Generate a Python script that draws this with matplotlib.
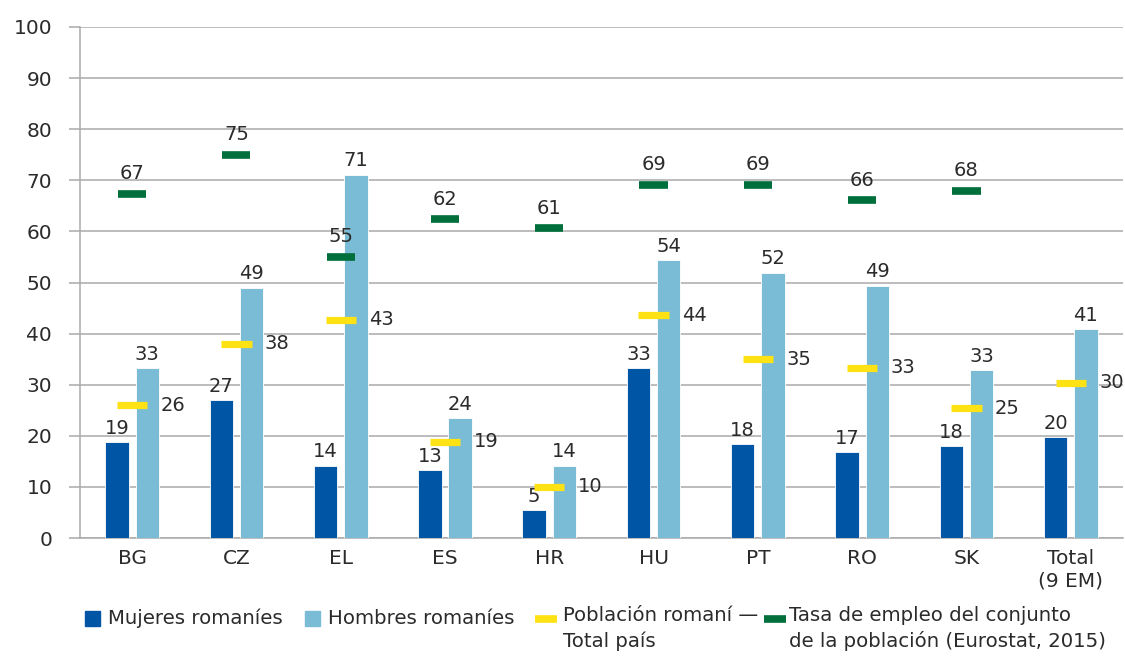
import matplotlib
matplotlib.use("Agg")
import matplotlib.pyplot as plt
import numpy as np
from matplotlib.patches import Rectangle
from matplotlib.lines import Line2D

plt.rcParams['font.family'] = ['DejaVu Sans']

categories = ["BG", "CZ", "EL", "ES", "HR", "HU", "PT", "RO", "SK", "Total\n(9 EM)"]
mujeres = [18.8, 27.0, 14.2, 13.3, 5.4, 33.3, 18.4, 16.8, 18.0, 19.8]
hombres = [33.3, 49.0, 71.1, 23.5, 14.2, 54.4, 51.9, 49.4, 32.9, 40.9]
poblacion = [26.0, 38.0, 42.7, 18.8, 10.0, 43.6, 35.0, 33.3, 25.4, 30.4]
tasa_cats = ["BG", "CZ", "EL", "ES", "HR", "HU", "PT", "RO", "SK"]
tasa = [67.4, 75.0, 55.0, 62.4, 60.6, 69.1, 69.1, 66.1, 67.9]

legend_labels = ["Mujeres romaníes", "Hombres romaníes",
                 "Población romaní —\nTotal país",
                 "Tasa de empleo del conjunto\nde la población (Eurostat, 2015)"]

C_DARK = "#0055a5"
C_LIGHT = "#7abcd6"
C_YEL = "#ffe214"
C_GRN = "#006f3b"
C_TXT = "#2b2b2b"
C_GRID = "#aaaaaa"

fig = plt.figure(figsize=(11.25, 6.57), dpi=100)
ax = fig.add_axes([0.0711, 0.181, 0.927, 0.778])

x = np.arange(len(categories))
w = 0.225
off = 0.145
ax.bar(x - off, mujeres, w, color=C_DARK, edgecolor="white", linewidth=0.6, zorder=3)
ax.bar(x + off, hombres, w, color=C_LIGHT, edgecolor="white", linewidth=0.6, zorder=3)

mw = 0.145
ax.hlines(poblacion, x - mw, x + mw, colors=C_YEL, linewidth=5.2, zorder=4, capstyle='butt')
xt = np.array([categories.index(c) for c in tasa_cats])
ax.hlines(tasa, xt - 0.135, xt + 0.135, colors=C_GRN, linewidth=5.5, zorder=4, capstyle='butt')

fs = 14
for xi, v in zip(x, mujeres):
    ax.annotate(f"{round(v)}", (xi - off, v), xytext=(0, 6), textcoords="offset points",
                ha="center", va="baseline", fontsize=fs, color=C_TXT)
for xi, v in zip(x, hombres):
    ax.annotate(f"{round(v)}", (xi + off, v), xytext=(0, 6), textcoords="offset points",
                ha="center", va="baseline", fontsize=fs, color=C_TXT)
for xi, v in zip(x, poblacion):
    ax.annotate(f"{round(v)}", (xi, v), xytext=(20.5, 0), textcoords="offset points",
                ha="left", va="center", fontsize=fs, color=C_TXT)
for xi, v in zip(xt, tasa):
    ax.annotate(f"{round(v)}", (xi, v), xytext=(0, 10.5), textcoords="offset points",
                ha="center", va="baseline", fontsize=fs, color=C_TXT)

ax.set_xlim(-0.5, len(categories) - 0.5)
ax.set_ylim(0, 100)
ax.set_yticks(np.arange(0, 101, 10))
ax.set_xticks(x)
ax.set_xticklabels(categories, fontsize=14.5, color=C_TXT, linespacing=1.25)
ax.tick_params(axis='x', length=0, pad=8)
ax.tick_params(axis='y', length=8, width=1.1, color=C_GRID, pad=12, labelsize=14.5, labelcolor=C_TXT)
ax.grid(axis='y', color=C_GRID, linewidth=1.1, zorder=0)
ax.set_axisbelow(True)
for s in ["top", "right"]:
    ax.spines[s].set_visible(False)
for s in ["left", "bottom"]:
    ax.spines[s].set_color(C_GRID)
    ax.spines[s].set_linewidth(1.1)

# legend (manual, figure coordinates in pixels)
W, H = 1125, 657
def fx(px): return px / W
def fy(py): return 1 - py / H
lfs = 14.2
ytxt = 618
fig.patches.append(Rectangle((fx(85), fy(626)), 15 / W, 15 / H, transform=fig.transFigure,
                             color=C_DARK, figure=fig))
fig.text(fx(108), fy(ytxt), legend_labels[0], fontsize=lfs, color=C_TXT, va="center", ha="left")
fig.patches.append(Rectangle((fx(305), fy(626)), 15 / W, 15 / H, transform=fig.transFigure,
                             color=C_LIGHT, figure=fig))
fig.text(fx(328), fy(ytxt), legend_labels[1], fontsize=lfs, color=C_TXT, va="center", ha="left")
fig.lines.append(Line2D([fx(535), fx(557)], [fy(619), fy(619)], transform=fig.transFigure,
                        color=C_YEL, linewidth=5.5, solid_capstyle='butt'))
fig.text(fx(563), fy(606), legend_labels[2], fontsize=lfs, color=C_TXT, va="top", ha="left",
         linespacing=1.4)
fig.lines.append(Line2D([fx(764), fx(786)], [fy(619), fy(619)], transform=fig.transFigure,
                        color=C_GRN, linewidth=5.5, solid_capstyle='butt'))
fig.text(fx(789), fy(606), legend_labels[3], fontsize=lfs, color=C_TXT, va="top", ha="left",
         linespacing=1.4)

fig.savefig("out.png", dpi=100)
